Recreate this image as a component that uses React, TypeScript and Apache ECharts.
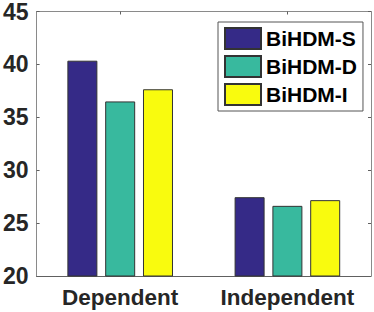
import React, { useEffect, useRef } from "react";
import * as echarts from "echarts";

const categories = ["Dependent", "Independent"];
const seriesNames = ["BiHDM-S", "BiHDM-D", "BiHDM-I"];
const bihdmS = [40.35, 27.45];
const bihdmD = [36.5, 26.63];
const bihdmI = [37.65, 27.17];
const colors = ["#352a87", "#38b99e", "#f9fb0e"];
const yMin = 20;
const yMax = 45;
const yStep = 5;

export default function App() {
  const ref = useRef<HTMLDivElement>(null);
  useEffect(() => {
    if (!ref.current) return;
    const chart = echarts.init(ref.current, undefined, { renderer: "svg" });
    const font = "'Liberation Sans', Arial, sans-serif";
    const data = [bihdmS, bihdmD, bihdmI];
    chart.setOption({
      animation: false,
      backgroundColor: "#ffffff",
      grid: { left: 35, right: 3, top: 11, bottom: 36 },
      legend: {
        orient: "vertical",
        left: 218,
        top: 22,
        itemWidth: 36,
        itemHeight: 21,
        itemGap: 5,
        padding: [5, 6, 5, 6],
        borderColor: "#555",
        borderWidth: 1,
        backgroundColor: "#fff",
        icon: "rect",
        textStyle: { fontSize: 21, fontWeight: "bold", fontFamily: font, color: "#000" },
        data: seriesNames,
      },
      xAxis: [
        {
          type: "category",
          data: categories,
          position: "bottom",
          axisLine: { lineStyle: { color: "#606060", width: 1 } },
          axisTick: { inside: true, alignWithLabel: true, length: 3, lineStyle: { color: "#606060" } },
          axisLabel: { interval: 0, fontSize: 22.5, fontWeight: "bold", fontFamily: font, color: "#262626", margin: 10 },
        },
        {
          type: "category",
          data: categories,
          position: "top",
          axisLine: { show: true, lineStyle: { color: "#8a8a8a", width: 1 } },
          axisTick: { show: true, inside: true, alignWithLabel: true, length: 3, lineStyle: { color: "#606060" } },
          axisLabel: { show: false },
        },
      ],
      yAxis: [
        {
          type: "value",
          min: yMin,
          max: yMax,
          interval: yStep,
          position: "left",
          axisLine: { show: true, lineStyle: { color: "#8a8a8a", width: 1 } },
          axisTick: { show: true, inside: true, length: 3, lineStyle: { color: "#606060" } },
          splitLine: { show: false },
          axisLabel: { fontSize: 23, fontWeight: "bold", fontFamily: font, color: "#262626", margin: 8 },
        },
        {
          type: "value",
          min: yMin,
          max: yMax,
          interval: yStep,
          position: "right",
          axisLine: { show: true, lineStyle: { color: "#8a8a8a", width: 1 } },
          axisTick: { show: true, inside: true, length: 3, lineStyle: { color: "#606060" } },
          splitLine: { show: false },
          axisLabel: { show: false },
        },
      ],
      series: seriesNames.map((name, i) => ({
        name,
        type: "bar",
        xAxisIndex: 0,
        yAxisIndex: 0,
        data: data[i],
        barWidth: 30,
        barGap: "26%",
        itemStyle: { color: colors[i], borderColor: "#333", borderWidth: 1 },
      })),
    });
    return () => chart.dispose();
  }, []);
  return (
    <div
      ref={ref}
      style={{ position: "fixed", left: 0, top: 0, width: 374, height: 312, background: "#fff" }}
    />
  );
}
